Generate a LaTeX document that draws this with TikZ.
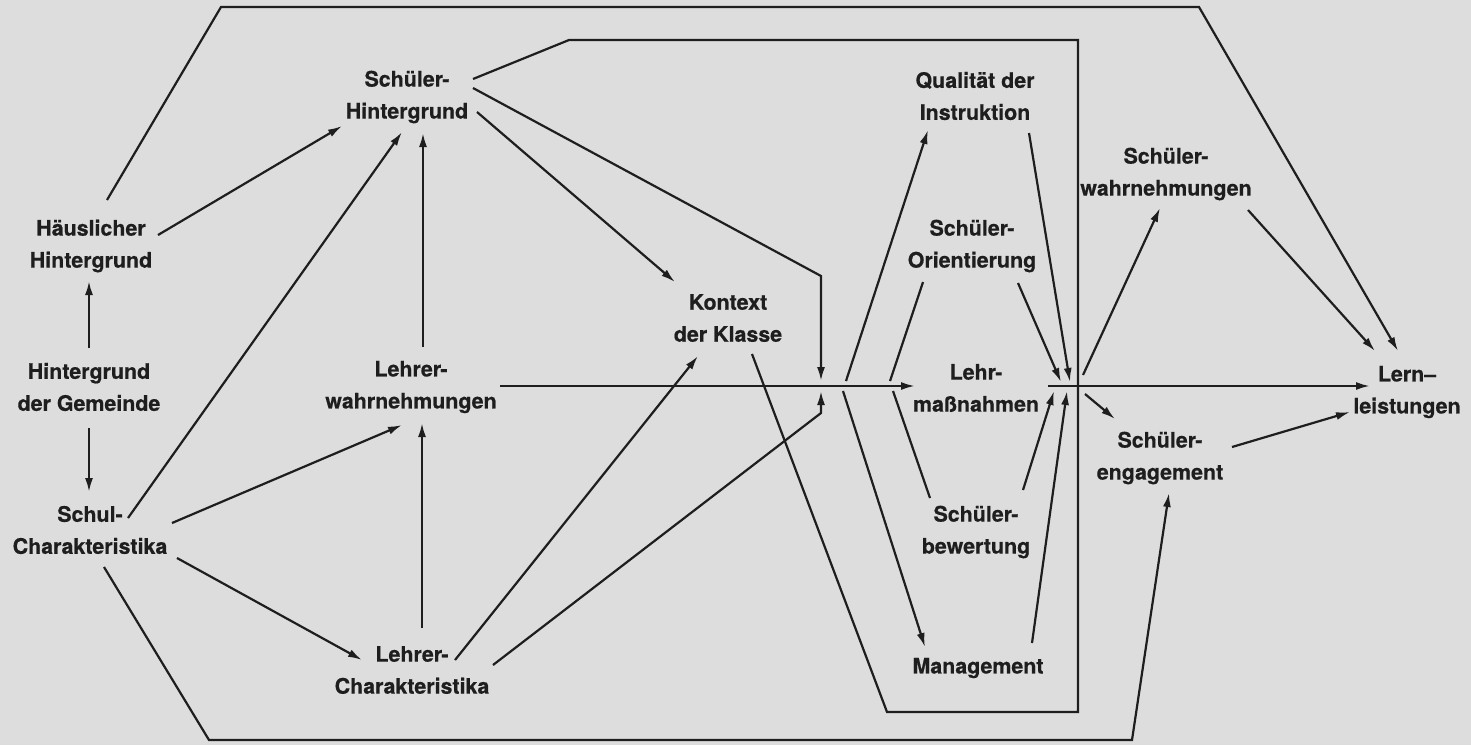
\documentclass[tikz,border=0pt]{standalone}
\usepackage{fontspec}
\setmainfont{TeX Gyre Heros}[BoldFeatures={FakeBold=0.5}]
\usetikzlibrary{arrows.meta}
\definecolor{bg}{RGB}{221,221,221}
\definecolor{ink}{RGB}{30,30,30}
\begin{document}
\begin{tikzpicture}[x=0.5pt,y=-0.5pt,
  lbl/.style={font=\fontsize{10.7}{16}\selectfont\bfseries, align=center, inner sep=0pt, text=ink},
  ln/.style={draw=ink, line width=1.1pt, line join=miter},
  arr/.style={ln, -{Latex[length=7pt,width=4pt]}}]
\fill[bg] (0,0) rectangle (1471,745);
\useasboundingbox (0,0) rectangle (1471,745);

% nodes
\node[lbl] (hh) at (91,246) {Häuslicher\\Hintergrund};
\node[lbl] (hg) at (89,387) {Hintergrund\\der Gemeinde};
\node[lbl] (sc) at (90,530) {Schul-\\Charakteristika};
\node[lbl] (sh) at (407,97) {Schüler-\\Hintergrund};
\node[lbl] (lw) at (411,387) {Lehrer-\\wahrnehmungen};
\node[lbl] (lc) at (412,670) {Lehrer-\\Charakteristika};
\node[lbl] (kk) at (728,318) {Kontext\\der Klasse};
\node[lbl] (qi) at (975,96) {Qualität der\\Instruktion};
\node[lbl] (so) at (972,246) {Schüler-\\Orientierung};
\node[lbl] (lm) at (976,388) {Lehr-\\maßnahmen};
\node[lbl] (sb) at (976,532) {Schüler-\\bewertung};
\node[lbl] (mg) at (978,668) {Management};
\node[lbl] (sw) at (1166,174) {Schüler-\\wahrnehmungen};
\node[lbl] (se) at (1160,458) {Schüler-\\engagement};
\node[lbl] (ll) at (1407,392) {Lern--\\leistungen};

% bend points and junctions
\coordinate (t1) at (221,7);
\coordinate (t2) at (1199,7);
\coordinate (u1) at (569,40);
\coordinate (u2) at (1078,40);
\coordinate (u3) at (1078,712);
\coordinate (u4) at (887,712);
\coordinate (b1) at (209,740);
\coordinate (b2) at (1132,740);
\coordinate (k1) at (821,276);
\coordinate (k2) at (821,413);
\coordinate (jLa) at (821,381);
\coordinate (jLb) at (821,391);
\coordinate (f1a) at (846,381);
\coordinate (f1b) at (843,391);
\coordinate (f2a) at (890,381);
\coordinate (f2b) at (893,391);
\coordinate (jR1) at (1070,382);
\coordinate (jR2) at (1061,382);
\coordinate (jR3) at (1054,391);
\coordinate (jR4) at (1067,391);
\coordinate (jR5) at (1083,375);
\coordinate (jR6) at (1085,394);

% left part
\draw[arr] ([shift={(0,-39)}]hg.center) -- ([shift={(-2,35)}]hh.center);
\draw[arr] ([shift={(0,41)}]hg.center) -- ([shift={(-1,-38)}]sc.center);
\draw[arr] ([shift={(67,-11)}]hh.center) -- ([shift={(-65,29)}]sh.center);
\draw[arr] ([shift={(38,-12)}]sc.center) -- ([shift={(-5,35)}]sh.center);
\draw[arr] ([shift={(82,-7)}]sc.center) -- ([shift={(-9,38)}]lw.center);
\draw[arr] ([shift={(87,28)}]sc.center) -- ([shift={(-50,-10)}]lc.center);
\draw[arr] ([shift={(10,-42)}]lc.center) -- ([shift={(11,36)}]lw.center);
\draw[arr] ([shift={(12,-40)}]lw.center) -- ([shift={(16,36)}]sh.center);
\draw[arr] ([shift={(70,15)}]sh.center) -- ([shift={(-53,-36)}]kk.center);
\draw[arr] ([shift={(43,-10)}]lc.center) -- ([shift={(-30,38)}]kk.center);

% to the left junction
\draw[arr] ([shift={(66,-9)}]sh.center) -- (k1) -- (jLa);
\draw[arr] ([shift={(81,-5)}]lc.center) -- (k2) -- (jLb);

% main horizontal arrows
\draw[arr] ([shift={(89,-1)}]lw.center) -- ([shift={(-61,-2)}]lm.center);
\draw[arr] ([shift={(72,-2)}]lm.center) -- ([shift={(-37,-6)}]ll.center);

% outer frames
\draw[arr] ([shift={(16,-46)}]hh.center) -- (t1) -- (t2) -- ([shift={(-9,-41)}]ll.center);
\draw[ln] ([shift={(66,-18)}]sh.center) -- (u1) -- (u2) -- (u3) -- (u4) -- ([shift={(24,36)}]kk.center);
\draw[arr] ([shift={(14,37)}]sc.center) -- (b1) -- (b2) -- ([shift={(9,35)}]se.center);

% fan from the main arrow
\draw[arr] (f1a) -- ([shift={(-47,34)}]qi.center);
\draw[arr] (f1b) -- ([shift={(-53,-21)}]mg.center);
\draw[ln] ([shift={(-49,36)}]so.center) -- (f2a);
\draw[ln] ([shift={(-46,-34)}]sb.center) -- (f2b);

% into the right junction
\draw[arr] ([shift={(54,37)}]qi.center) -- (jR1);
\draw[arr] ([shift={(46,37)}]so.center) -- (jR2);
\draw[arr] ([shift={(47,-42)}]sb.center) -- (jR3);
\draw[arr] ([shift={(54,-25)}]mg.center) -- (jR4);
\draw[arr] (jR5) -- ([shift={(-6,34)}]sw.center);
\draw[arr] (jR6) -- ([shift={(-45,-39)}]se.center);

% to Lernleistungen
\draw[arr] ([shift={(82,36)}]sw.center) -- ([shift={(-32,-41)}]ll.center);
\draw[arr] ([shift={(72,-11)}]se.center) -- ([shift={(-57,20)}]ll.center);
\end{tikzpicture}
\end{document}
